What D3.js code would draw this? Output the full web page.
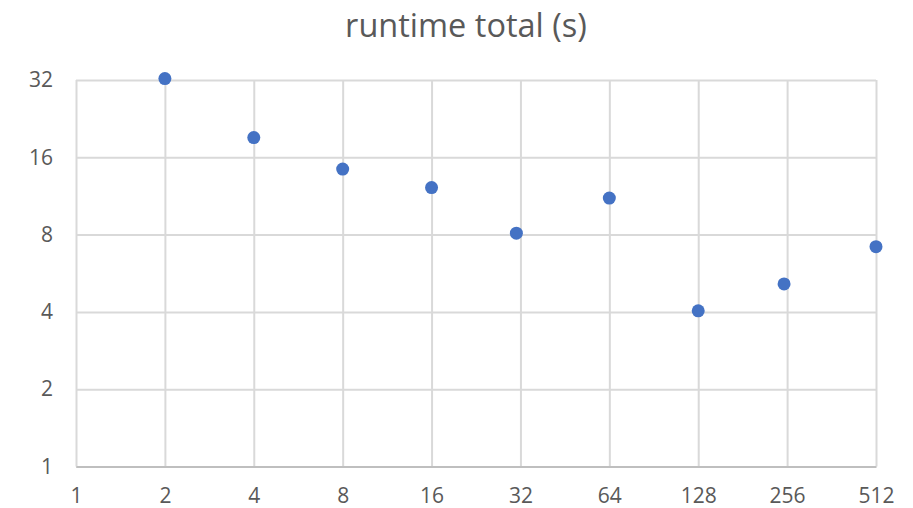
<!DOCTYPE html>
<html>
<head>
<meta charset="utf-8">
<script src="https://cdn.jsdelivr.net/npm/d3@7"></script>
<style>
  html, body { margin: 0; padding: 0; background: #fff; }
  svg { display: block; font-family: "Open Sans", "Liberation Sans", sans-serif; }
</style>
</head>
<body>
<svg id="chart" width="913" height="508"></svg>
<script>
// Number of workers vs. total runtime in seconds
const workers = [2, 4, 8, 16, 31, 64, 128, 250, 512];
const runtimeSeconds = [32.4, 19.1, 14.4, 12.2, 8.1, 11.1, 4.04, 5.14, 7.18];
const xTicks = [1, 2, 4, 8, 16, 32, 64, 128, 256, 512];
const yTicks = [1, 2, 4, 8, 16, 32];
const chartTitle = "runtime total (s)";

const svg = d3.select("#chart");
const margin = { left: 76, right: 37, top: 80, bottom: 41.5 };
const W = 913, H = 508;

const x = d3.scaleLog().base(2).domain([1, 512]).range([margin.left, W - margin.right]);
const y = d3.scaleLog().base(2).domain([1, 32]).range([H - margin.bottom, margin.top]);

const textColor = "#595959";
const gridColor = "#d9d9d9";

// vertical gridlines
svg.append("g")
  .attr("transform", `translate(0,${margin.top})`)
  .call(d3.axisBottom(x).tickValues(xTicks).tickSize(y(1) - margin.top).tickFormat(""))
  .call(g => g.select(".domain").remove())
  .call(g => g.selectAll("line").attr("stroke", gridColor).attr("stroke-width", 2));

// horizontal gridlines
svg.append("g")
  .attr("transform", `translate(${margin.left},0)`)
  .call(d3.axisRight(y).tickValues(yTicks).tickSize(x(512) - margin.left).tickFormat(""))
  .call(g => g.select(".domain").remove())
  .call(g => g.selectAll("line").attr("stroke", gridColor).attr("stroke-width", 2));

// horizontal axis line
svg.append("g")
  .attr("transform", `translate(0,${y(1)})`)
  .call(d3.axisBottom(x).tickValues(xTicks).tickSize(0).tickPadding(22).tickFormat(d3.format("d")))
  .call(g => g.select(".domain").attr("stroke", "#bfbfbf").attr("stroke-width", 2))
  .call(g => g.selectAll("text")
    .attr("fill", textColor)
    .style("font-size", "21px")
    .style("font-family", "'Open Sans', sans-serif"));

// y tick labels
svg.append("g")
  .attr("transform", `translate(${margin.left},0)`)
  .call(d3.axisLeft(y).tickValues(yTicks).tickSize(0).tickPadding(23).tickFormat(d3.format("d")))
  .call(g => g.select(".domain").remove())
  .call(g => g.selectAll("text")
    .attr("fill", textColor)
    .style("font-size", "21px")
    .style("font-family", "'Open Sans', sans-serif"));

// title
svg.append("text")
  .attr("x", 466)
  .attr("y", 37)
  .attr("text-anchor", "middle")
  .attr("fill", textColor)
  .style("font-size", "32.5px")
  .text(chartTitle);

// points
svg.append("g")
  .selectAll("circle")
  .data(workers.map((w, i) => ({ w, t: runtimeSeconds[i] })))
  .join("circle")
  .attr("cx", d => x(d.w))
  .attr("cy", d => y(d.t))
  .attr("r", 6.5)
  .attr("fill", "#4472c4");
</script>
</body>
</html>
